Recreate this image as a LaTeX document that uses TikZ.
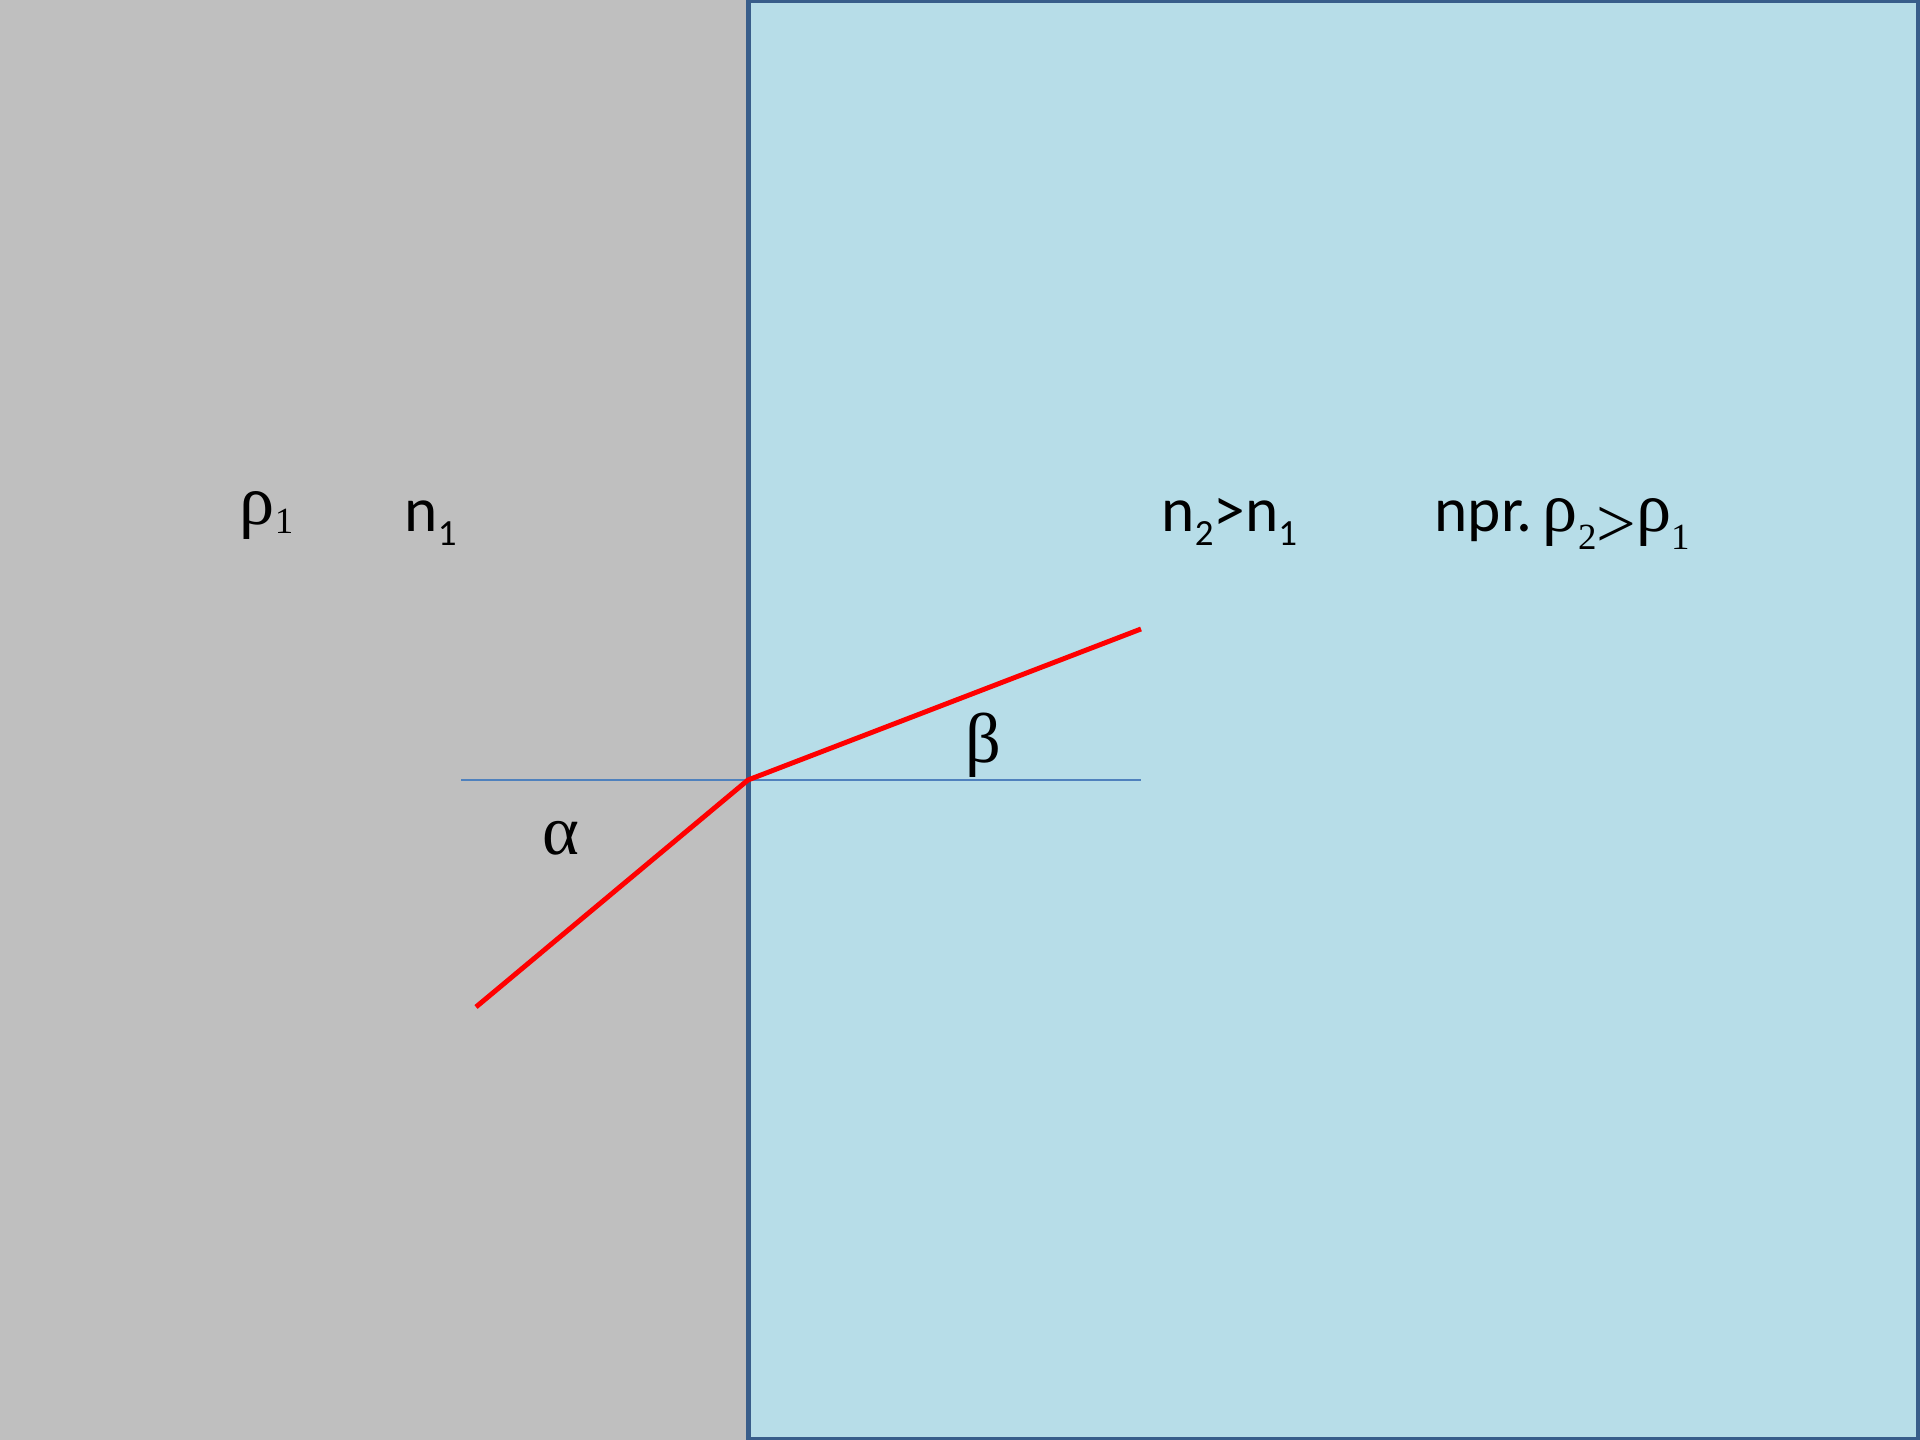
\documentclass[tikz,border=0pt]{standalone}
\usepackage{fontspec}
\setmainfont{Liberation Serif}
\newfontfamily\calfont{Carlito}
\newcommand{\lowsub}[2][3.7pt]{\raisebox{-#1}{\fontsize{10.5}{11}\selectfont #2}}
\definecolor{glassgray}{HTML}{BFBFBF}
\definecolor{waterblue}{HTML}{B7DDE8}
\definecolor{edgeblue}{HTML}{385D8A}
\definecolor{normalblue}{HTML}{4F81BD}

\begin{document}
\begin{tikzpicture}[
    x=0.01cm, y=-0.01cm,
    lbl/.style={inner sep=0pt, anchor=base west, font=\fontsize{18}{22}\selectfont\calfont},
    greek/.style={inner sep=0pt, anchor=base, font=\fontsize{20}{24}\selectfont},
    ray/.style={draw=red, line width=1.4pt},
    normal/.style={draw=normalblue, line width=0.45pt}
]
    \useasboundingbox (0,0) rectangle (1920,1440);
    \fill[glassgray] (0,0) rectangle (748,1440);
    \begin{scope}
        \clip (0,0) rectangle (1920,1440);
        \filldraw[fill=waterblue, draw=edgeblue, line width=1.2pt] (748.5,1) rectangle (1918.5,1439);
    \end{scope}

    \coordinate (O) at (748,780);
    \coordinate (L) at (461,780);
    \coordinate (R) at (1141,780);
    \coordinate (A) at (476,1007);
    \coordinate (B) at (1141,629);

    \draw[normal] (L) -- (R);
    \draw[ray, line join=round] (A) -- (O) -- (B);

    \node[greek, anchor=base west] (rho1) at (239,525) {ρ\lowsub[2.3pt]{1}};
    \node[lbl] (n1) at (404,532) {n\lowsub{1}};
    \node[lbl] (n2) at (1161,532) {n\lowsub{2}>n\lowsub{1}};
    \node[lbl] (rho2) at (1434,532) {npr.\kern0.1cm{\rmfamily\fontsize{20}{24}\selectfont
        ρ\lowsub[5pt]{2}\raisebox{-4.5pt}{>}ρ\lowsub[5pt]{1}}};
    \node[greek] (alpha) at (561,855) {α};
    \node[greek] (beta) at (983,763) {β};
\end{tikzpicture}
\end{document}
